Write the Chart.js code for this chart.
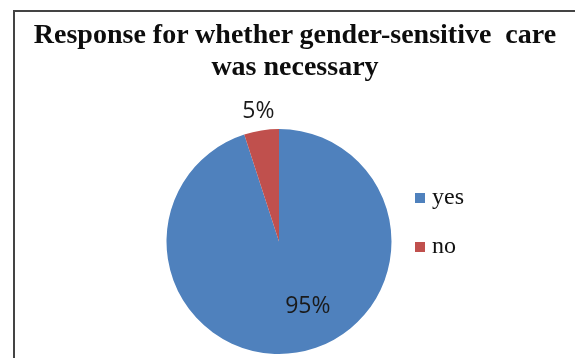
<!DOCTYPE html>
<html lang="en">
  <head>
    <meta charset="UTF-8" />
    <title>Gender-sensitive care response</title>
    <style>
      * {
        box-sizing: border-box;
        margin: 0;
        padding: 0;
      }

      html,
      body {
        width: 575px;
        height: 358px;
        overflow: hidden;
        background-color: #fff;
      }

      .frame {
        position: absolute;
        left: 13px;
        top: 10px;
        width: 620px;
        height: 420px;
        border-left: 2px solid #444;
        border-top: 2px solid #444;
      }

      .chart-box {
        position: absolute;
        left: 0;
        top: 0;
      }

      .chart-title {
        position: absolute;
        left: 0;
        top: 18px;
        width: 590px;
        text-align: center;
        font-family: "Liberation Serif", "Times New Roman", serif;
        font-weight: bold;
        font-size: 28px;
        line-height: 32px;
        color: #0d0d0d;
        white-space: pre;
      }
    </style>
    <script src="https://cdn.jsdelivr.net/npm/chart.js"></script>
  </head>
  <body>
    <div class="frame"></div>
    <div class="chart-box">
      <canvas id="careChart" width="575" height="358"></canvas>
    </div>
    <div class="chart-title">Response for whether gender-sensitive  care
was necessary</div>
    <script>
      const answers = ["yes", "no"];
      const shares = [95, 5];
      const sliceColours = ["#4F81BD", "#C0504D"];

      // where each percentage sits: fraction of the radius, and a turn in degrees off the slice middle
      const labelRadius = [0.63, 1.17];
      const labelTurn = [-15, 0];

      const sliceLabels = {
        id: "sliceLabels",
        afterDatasetsDraw(chart) {
          const ctx = chart.ctx;
          const arcs = chart.getDatasetMeta(0).data;
          const total = shares.reduce((a, b) => a + b, 0);
          ctx.save();
          ctx.font = '23px "Open Sans", sans-serif';
          ctx.fillStyle = "#1a1a1a";
          ctx.textAlign = "center";
          ctx.textBaseline = "middle";
          arcs.forEach((arc, i) => {
            const p = arc.getProps(
              ["x", "y", "startAngle", "endAngle", "outerRadius"],
              true
            );
            const angle =
              (p.startAngle + p.endAngle) / 2 + (labelTurn[i] * Math.PI) / 180;
            const r = p.outerRadius * labelRadius[i];
            const text = Math.round((shares[i] / total) * 100) + "%";
            ctx.fillText(
              text,
              p.x + Math.cos(angle) * r,
              p.y + Math.sin(angle) * r
            );
          });
          ctx.restore();
        },
      };

      new Chart(document.getElementById("careChart"), {
        type: "pie",
        data: {
          labels: answers,
          datasets: [
            {
              data: shares,
              backgroundColor: sliceColours,
              borderWidth: 0,
              radius: 112.5,
              clip: false,
            },
          ],
        },
        options: {
          responsive: false,
          animation: false,
          layout: {
            padding: { left: 163, right: 101, top: 161, bottom: 36 },
          },
          plugins: {
            title: { display: false },
            tooltip: { enabled: false },
            legend: {
              position: "right",
              align: "start",
              labels: {
                font: {
                  family: "'Liberation Serif', 'Times New Roman', serif",
                  size: 24,
                },
                color: "#111",
                usePointStyle: true,
                pointStyle: "rect",
                boxWidth: 0.01,
                boxHeight: 10,
                padding: 25,
              },
            },
          },
        },
        plugins: [sliceLabels],
      });
    </script>
  </body>
</html>
